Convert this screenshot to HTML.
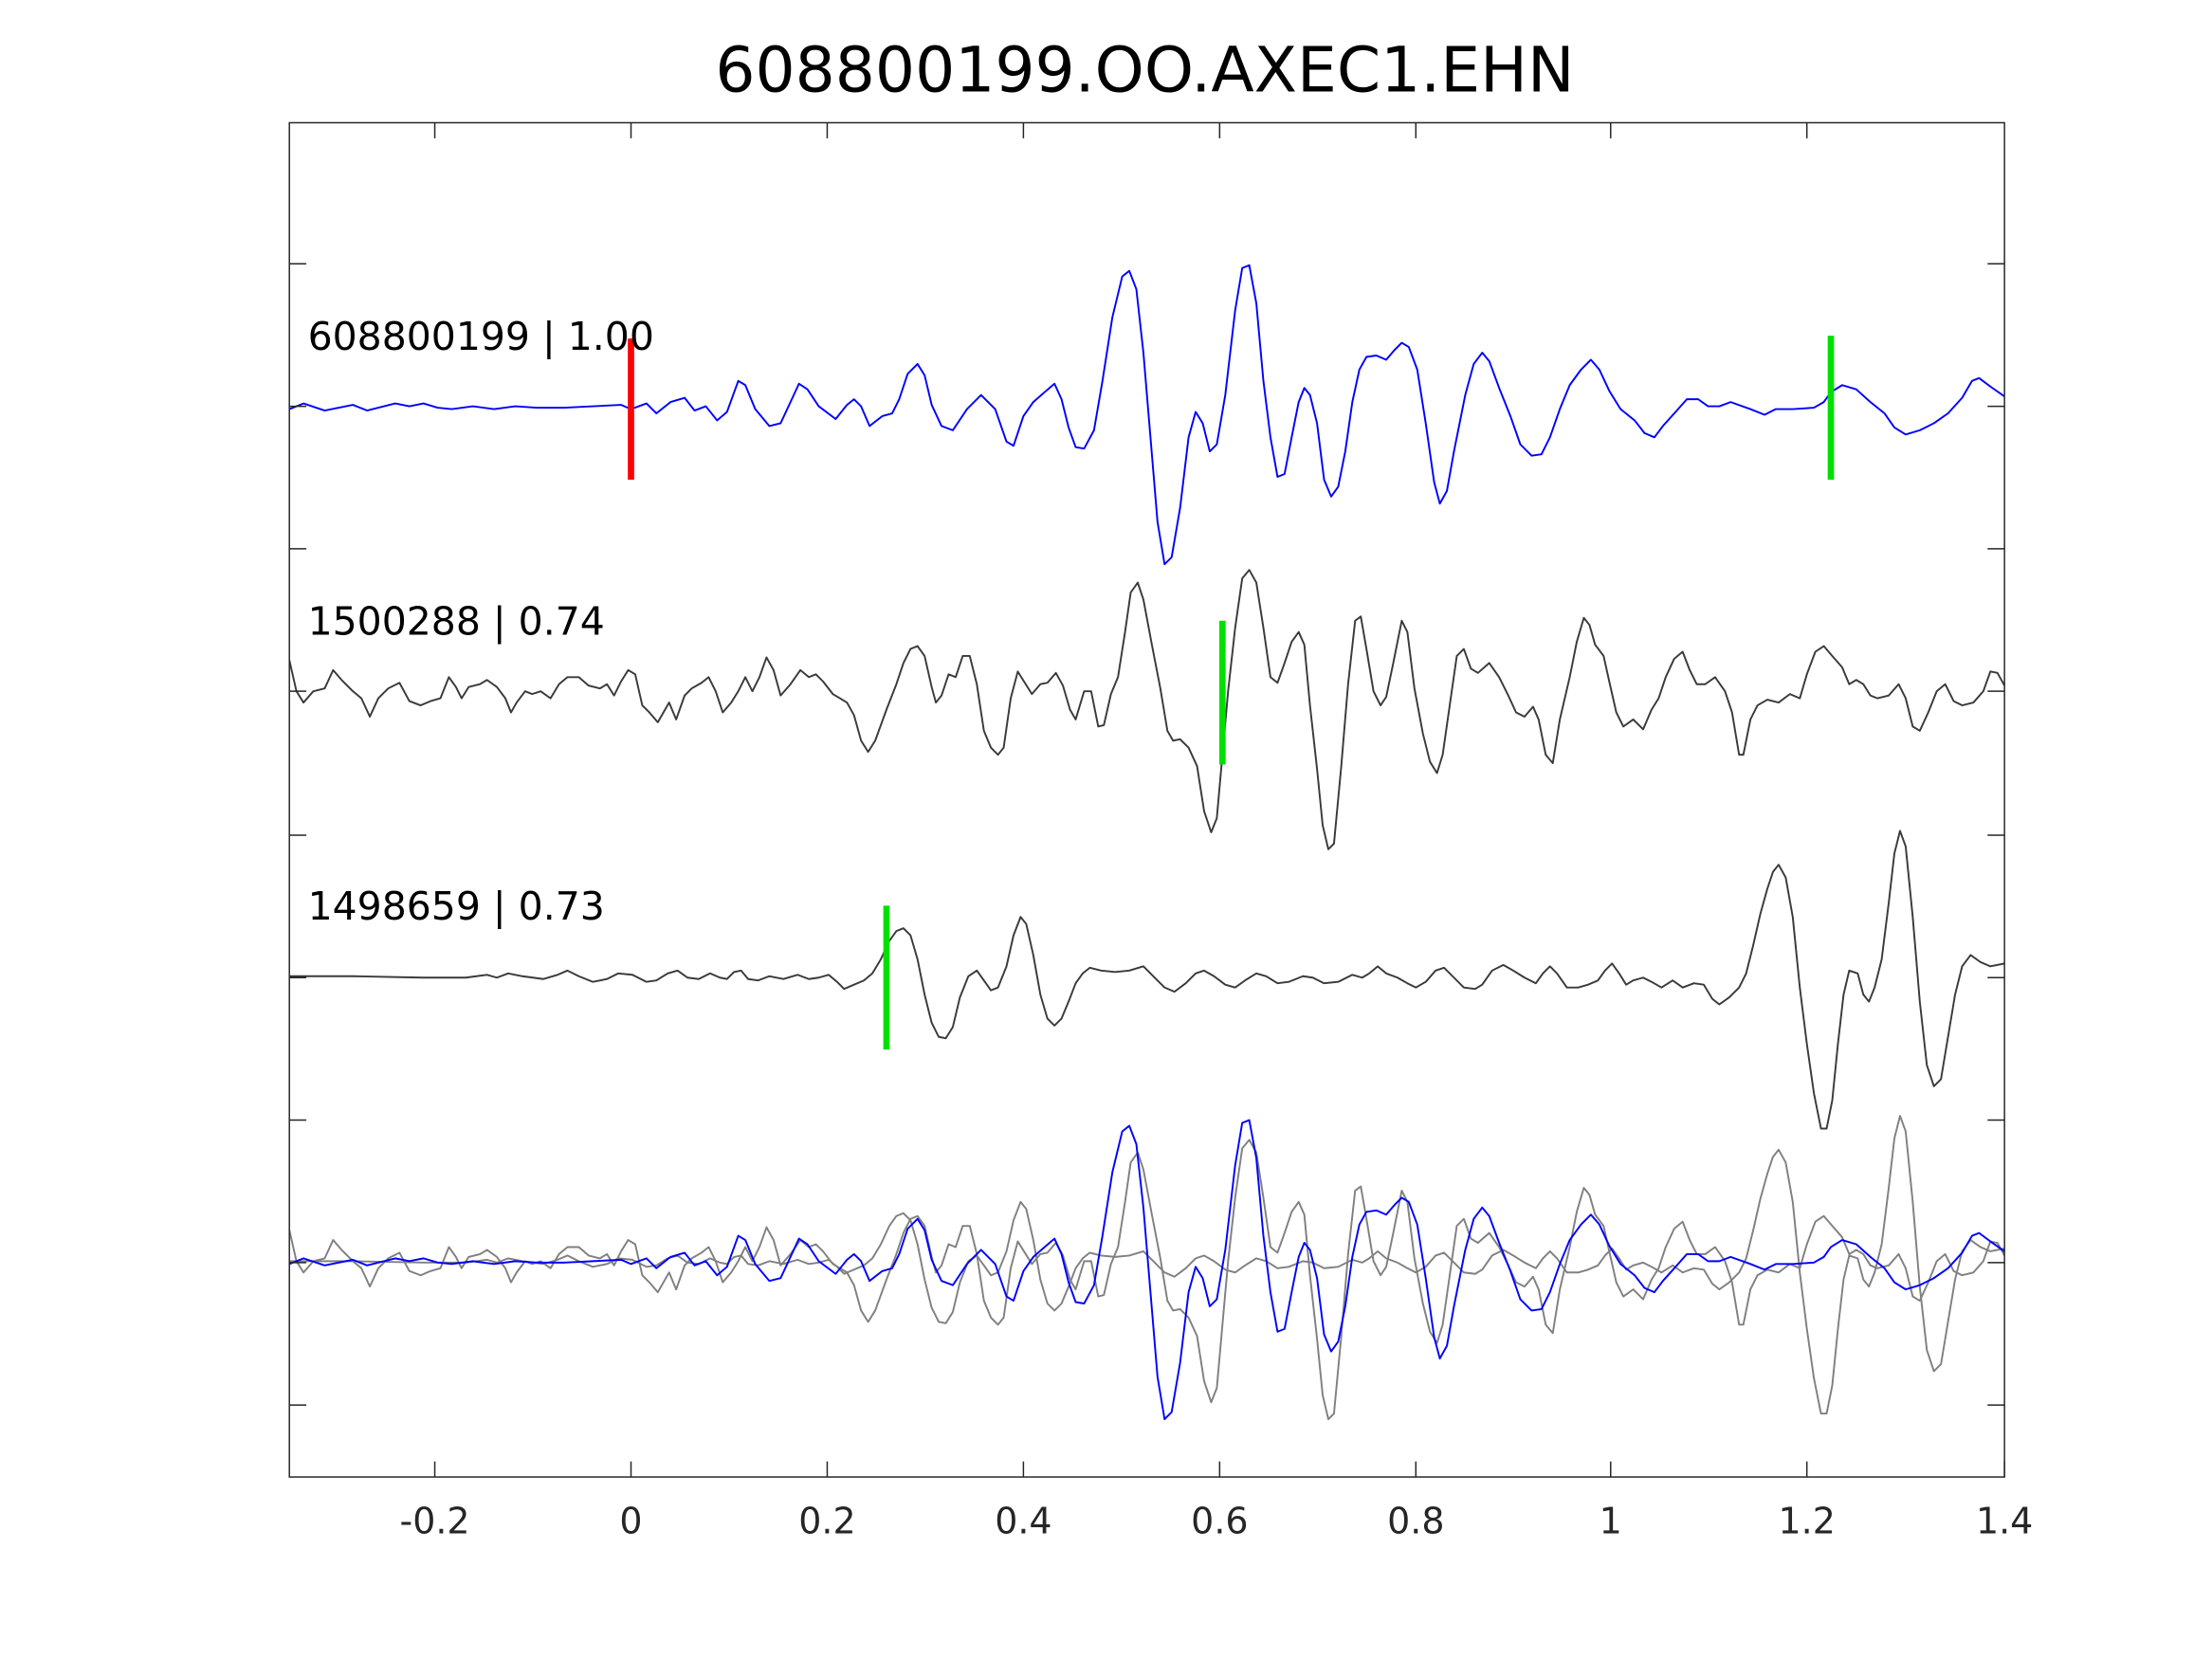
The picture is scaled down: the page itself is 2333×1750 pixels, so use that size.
<!DOCTYPE html>
<html><head><meta charset="utf-8"><style>
html,body{margin:0;padding:0;background:#fff;}
svg{display:block;}
text{font-family:"DejaVu Sans","Liberation Sans",sans-serif;}
</style></head><body>
<svg width="2333" height="1750" viewBox="0 0 1567 1176" preserveAspectRatio="none" xmlns="http://www.w3.org/2000/svg">
<rect width="1567" height="1176" fill="#fff"/>
<defs>
<polyline id="t1" fill="none" points="205,290 215,286 230,291 250,287 260,291 280,286 290,288 300,286 310,289 320,290 335,288 350,290 365,288 380,289 400,289 420,288 440,287 447,290 458,286 465,293 475,285 485,282 492,291 500,288 508,298 515,292 523,270 528,273 535,290 545,302 553,300 560,285 566,272 572,276 580,288 592,297 600,287 605,283 610,288 616,302 625,295 632,293 637,283 643,265 650,258 655,266 660,287 667,302 675,305 685,290 695,280 705,290 713,313 718,316 725,295 732,285 740,278 747,272 752,283 757,303 762,317 768,318 775,305 781,270 788,225 795,196 800,192 805,205 810,250 815,310 820,370 825,400 830,395 836,360 842,310 847,292 852,300 857,320 862,315 868,280 875,220 880,190 885,188 890,215 895,270 900,310 905,338 910,336 915,310 920,285 924,275 928,280 933,300 938,340 943,352 948,345 953,320 958,285 963,262 968,253 975,252 982,255 988,248 993,243 998,246 1004,262 1010,300 1016,342 1020,357 1025,348 1030,320 1038,280 1044,258 1050,250 1055,256 1062,275 1070,295 1077,315 1085,323 1092,322 1098,310 1105,290 1112,273 1120,262 1127,255 1133,262 1140,277 1148,290 1158,298 1165,307 1172,310 1178,302 1187,292 1195,283 1203,283 1210,288 1218,288 1226,285 1240,290 1250,294 1258,290 1270,290 1285,289 1292,285 1297,278 1305,273 1315,276 1325,285 1335,293 1342,303 1350,308 1360,305 1370,300 1380,293 1390,282 1397,270 1402,268 1410,274 1420,281"/>
<polyline id="t2" fill="none" points="205,468 210,490 215,498 222,490 230,488 236,475 242,482 250,490 256,495 262,508 268,495 275,488 283,484 290,497 298,500 305,497 312,495 318,480 323,487 327,495 332,487 340,485 345,482 352,487 358,495 362,505 366,498 372,490 377,492 383,490 390,495 396,485 402,480 410,480 417,486 425,488 430,485 435,493 440,483 445,475 450,478 455,500 460,505 466,512 470,505 474,498 479,510 485,493 490,488 497,484 502,480 507,490 512,505 518,498 523,490 528,480 533,490 538,480 543,466 548,475 553,493 560,485 567,475 573,480 578,478 583,483 590,492 595,495 600,498 605,507 610,525 615,533 620,525 628,503 635,485 640,470 645,460 650,458 655,465 660,487 663,498 667,493 672,478 677,480 682,465 687,465 692,485 697,518 702,530 707,535 711,530 716,495 721,476 726,484 731,492 737,485 742,484 748,477 753,486 758,503 762,510 768,490 773,490 778,515 782,514 787,492 792,480 797,448 801,420 806,413 810,425 816,457 822,488 827,518 831,525 836,524 842,530 848,543 853,575 858,590 862,580 866,535 870,490 875,445 880,410 885,404 890,413 895,445 900,480 905,484 910,470 915,455 920,448 924,457 928,500 933,545 937,585 941,602 945,598 950,545 955,485 960,440 964,437 968,460 973,490 978,500 982,494 987,470 993,440 997,448 1002,488 1008,520 1013,540 1018,548 1022,535 1027,500 1032,465 1037,460 1042,474 1047,477 1055,470 1062,480 1068,492 1074,505 1080,508 1086,501 1090,510 1095,535 1100,541 1105,510 1112,480 1117,455 1122,438 1126,443 1130,457 1136,465 1140,483 1145,505 1150,515 1157,510 1164,517 1170,503 1175,495 1180,480 1186,467 1192,462 1197,475 1202,485 1208,485 1215,480 1222,490 1227,505 1232,535 1235,535 1240,510 1245,500 1252,496 1260,498 1268,492 1275,495 1280,478 1286,462 1292,458 1298,465 1305,473 1310,485 1315,482 1320,485 1325,493 1330,495 1338,493 1345,485 1350,495 1355,515 1360,518 1366,505 1372,490 1378,485 1384,497 1390,500 1398,498 1405,490 1410,476 1415,477 1420,486"/>
<polyline id="t3" fill="none" points="205,692 250,692 300,693 330,693 345,691 352,693 360,690 370,692 385,694 395,691 402,688 410,692 420,696 430,694 438,690 448,691 458,696 465,695 473,690 480,688 487,693 495,694 503,690 510,693 515,694 520,689 525,688 530,694 537,695 545,692 555,694 565,691 573,694 580,693 587,691 593,696 598,701 605,698 612,695 618,690 624,680 630,667 635,660 640,658 645,663 650,680 655,705 660,725 665,735 670,736 675,728 680,707 686,692 692,688 697,695 702,702 707,700 713,685 718,663 723,650 727,655 732,677 737,705 742,722 747,727 752,722 757,710 762,697 767,690 772,686 780,688 790,689 800,688 810,685 817,692 825,700 832,703 840,697 847,690 853,688 860,692 868,698 875,700 882,695 890,690 897,692 905,697 913,696 923,692 930,693 938,697 948,696 958,691 965,693 970,690 976,685 982,690 990,693 997,697 1003,700 1010,696 1017,688 1023,686 1030,693 1037,700 1045,701 1050,698 1057,688 1065,684 1072,688 1080,693 1088,697 1093,690 1098,685 1103,690 1110,700 1118,700 1125,698 1132,695 1137,688 1142,683 1147,690 1152,698 1157,695 1164,693 1170,696 1177,700 1185,695 1192,700 1200,697 1207,698 1213,708 1218,712 1225,707 1232,700 1237,690 1242,670 1247,648 1252,630 1256,618 1260,613 1265,622 1270,650 1275,700 1280,740 1285,775 1290,800 1294,800 1298,780 1302,740 1306,705 1310,688 1316,690 1320,705 1324,710 1328,700 1333,680 1338,640 1342,605 1346,589 1350,600 1355,650 1360,710 1365,755 1370,770 1375,765 1380,735 1385,705 1390,685 1396,677 1403,682 1410,685 1420,683"/>
<clipPath id="c"><rect x="205" y="87" width="1215" height="960"/></clipPath>
</defs>
<g clip-path="url(#c)" stroke-linejoin="round">
<use href="#t1" stroke="#0000ff" stroke-width="1.3"/>
<use href="#t2" stroke="#3a3a3a" stroke-width="1.3"/>
<use href="#t3" stroke="#3a3a3a" stroke-width="1.3"/>
<use href="#t2" transform="translate(0,404)" stroke="#808080" stroke-width="1.3"/>
<use href="#t3" transform="translate(0,202)" stroke="#808080" stroke-width="1.3"/>
<use href="#t1" transform="translate(0,606)" stroke="#0000ff" stroke-width="1.3"/>
</g>
<g stroke-width="4.5">
<line x1="447" y1="240" x2="447" y2="340" stroke="#ff0000"/>
<line x1="1297" y1="238" x2="1297" y2="340" stroke="#00e000"/>
<line x1="866" y1="440" x2="866" y2="542" stroke="#00e000"/>
<line x1="628" y1="642" x2="628" y2="744" stroke="#00e000"/>
</g>
<rect x="205" y="87" width="1215" height="960" fill="none" stroke="#262626" stroke-width="1"/>
<g stroke="#262626" stroke-width="1">
<path d="M308,1047v-11M447,1047v-11M586,1047v-11M725,1047v-11M864,1047v-11M1003,1047v-11M1141,1047v-11M1280,1047v-11M1420,1047v-11"/>
<path d="M308,87v11M447,87v11M586,87v11M725,87v11M864,87v11M1003,87v11M1141,87v11M1280,87v11"/>
<path d="M205,187h12M205,288h12M205,389h12M205,490h12M205,592h12M205,693h12M205,794h12M205,895h12M205,996h12"/>
<path d="M1420,187h-12M1420,288h-12M1420,389h-12M1420,490h-12M1420,592h-12M1420,693h-12M1420,794h-12M1420,895h-12M1420,996h-12"/>
</g>
<g font-size="25.5" fill="#262626" text-anchor="middle">
<text x="308" y="1087">-0.2</text><text x="447" y="1087">0</text><text x="586" y="1087">0.2</text><text x="725" y="1087">0.4</text><text x="864" y="1087">0.6</text><text x="1003" y="1087">0.8</text><text x="1141" y="1087">1</text><text x="1280" y="1087">1.2</text><text x="1420" y="1087">1.4</text>
</g>
<g font-size="27.5" fill="#000">
<text x="218" y="248">608800199 | 1.00</text>
<text x="218" y="450">1500288 | 0.74</text>
<text x="218" y="652">1498659 | 0.73</text>
</g>
<text x="811" y="65" font-size="44.5" text-anchor="middle" fill="#000">608800199.OO.AXEC1.EHN</text>
</svg>
</body></html>
